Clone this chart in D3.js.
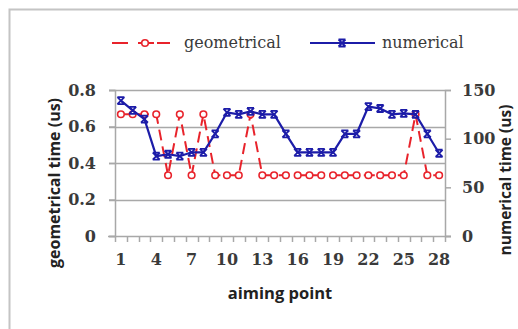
<!DOCTYPE html>
<html lang="en">
<head>
<meta charset="UTF-8">
<title>aiming point timing</title>
<style>
  body { margin: 0; background: #fff; }
  svg { display: block; }
</style>
</head>
<body>
<script src="https://d3js.org/d3.v7.min.js"></script>
<script>
    // aiming points 1..28
    var points = d3.range(1, 29);
    var tickLabels = [1, 4, 7, 10, 13, 16, 19, 22, 25, 28];

    // geometrical time (us), left axis
    var geometrical = [0.667, 0.667, 0.667, 0.667, 0.333, 0.667, 0.333, 0.667, 0.333, 0.333,
                       0.333, 0.667, 0.333, 0.333, 0.333, 0.333, 0.333, 0.333, 0.333, 0.333,
                       0.333, 0.333, 0.333, 0.333, 0.333, 0.667, 0.333, 0.333];

    // numerical time (us), right axis
    var numerical = [139, 129, 120, 82, 84, 82, 86, 86, 105, 127,
                     125, 128, 125, 125, 105, 86, 86, 86, 86, 105,
                     105, 133, 131, 125, 126, 125, 105, 85];

    var leftTicks = [0, 0.2, 0.4, 0.6, 0.8];
    var rightTicks = [0, 50, 100, 150];

    var W = 518, H = 329;
    var plot = {left: 115, right: 445, top: 90, bottom: 236};

    var svg = d3.select('body').append('svg')
        .attr('width', W)
        .attr('height', H);

    // outer chart frame (runs off the right/bottom edges)
    svg.append('rect')
        .attr('x', 9.5).attr('y', 9.5)
        .attr('width', 540).attr('height', 340)
        .attr('fill', '#fff')
        .attr('stroke', '#c4c4c4')
        .attr('stroke-width', 2);

    var x = d3.scaleBand()
        .domain(points)
        .range([plot.left, plot.right]);
    var yL = d3.scaleLinear().domain([0, 0.8]).range([plot.bottom, plot.top]);
    var yR = d3.scaleLinear().domain([0, 150]).range([plot.bottom, plot.top]);

    var gray = '#a8a8a8';
    var tickFont = 'DejaVu Serif';

    // gridlines
    svg.append('g').selectAll('line')
        .data(leftTicks.filter(function(d) { return d > 0; }))
      .enter().append('line')
        .attr('x1', plot.left - 6).attr('x2', plot.right)
        .attr('y1', function(d) { return Math.round(yL(d)) + 0.5; })
        .attr('y2', function(d) { return Math.round(yL(d)) + 0.5; })
        .attr('stroke', gray).attr('stroke-width', 1.5);

    // left axis
    var leftAxis = svg.append('g')
        .attr('transform', 'translate(' + plot.left + ',0)')
        .call(d3.axisLeft(yL).tickValues(leftTicks).tickSize(6).tickPadding(13)
            .tickFormat(function(d) { return d === 0 ? '0' : d3.format('.1f')(d); }));

    // right axis
    var rightAxis = svg.append('g')
        .attr('transform', 'translate(' + plot.right + ',0)')
        .call(d3.axisRight(yR).tickValues(rightTicks).tickSize(6).tickPadding(11));

    // bottom axis: ticks at category boundaries, labels every third point
    var bottomAxis = svg.append('g')
        .attr('transform', 'translate(0,' + plot.bottom + ')')
        .call(d3.axisBottom(x).tickValues(tickLabels).tickSize(0).tickPadding(18));

    svg.append('g').selectAll('line')
        .data(d3.range(points.length + 1))
      .enter().append('line')
        .attr('x1', function(i) { return Math.round(plot.left + i * x.step()) + 0.5; })
        .attr('x2', function(i) { return Math.round(plot.left + i * x.step()) + 0.5; })
        .attr('y1', plot.bottom).attr('y2', plot.bottom + 6)
        .attr('stroke', gray).attr('stroke-width', 1.5);

    svg.append('line')
        .attr('x1', plot.left - 7).attr('x2', plot.right + 6)
        .attr('y1', plot.bottom + 0.5).attr('y2', plot.bottom + 0.5)
        .attr('stroke', gray).attr('stroke-width', 1.5);

    [leftAxis, rightAxis, bottomAxis].forEach(function(a) {
        a.select('.domain').attr('stroke', gray).attr('stroke-width', 1.5);
        a.selectAll('.tick line').attr('stroke', gray).attr('stroke-width', 1.5);
        a.selectAll('.tick text')
            .attr('font-family', tickFont)
            .attr('font-size', 16)
            .attr('font-weight', 'bold')
            .attr('fill', '#3a3a3a');
    });
    bottomAxis.select('.domain').remove();

    var cx = function(d, i) { return x(points[i]) + x.bandwidth() / 2; };

    // geometrical series (red, dashed, circle markers)
    var red = '#e8232b';
    svg.append('path')
        .datum(geometrical)
        .attr('fill', 'none')
        .attr('stroke', red)
        .attr('stroke-width', 2)
        .attr('stroke-dasharray', '11,6')
        .attr('d', d3.line().x(cx).y(function(d) { return yL(d); }));

    svg.append('g').selectAll('circle')
        .data(geometrical)
      .enter().append('circle')
        .attr('cx', cx)
        .attr('cy', function(d) { return yL(d); })
        .attr('r', 3.3)
        .attr('fill', '#fff')
        .attr('stroke', red)
        .attr('stroke-width', 1.6);

    // numerical series (blue, solid, x markers)
    var blue = '#1c1ca8';
    var xMark = 'M-3.5,-3.5L3.5,-3.5M-3.5,3.5L3.5,3.5M-3.5,-3.5L3.5,3.5M3.5,-3.5L-3.5,3.5';
    svg.append('path')
        .datum(numerical)
        .attr('fill', 'none')
        .attr('stroke', blue)
        .attr('stroke-width', 2.2)
        .attr('d', d3.line().x(cx).y(function(d) { return yR(d); }));

    svg.append('g').selectAll('path')
        .data(numerical)
      .enter().append('path')
        .attr('transform', function(d, i) { return 'translate(' + cx(d, i) + ',' + yR(d) + ')'; })
        .attr('d', xMark)
        .attr('fill', 'none')
        .attr('stroke', blue)
        .attr('stroke-width', 1.8);

    // axis titles
    var titleFont = 'Open Sans';
    svg.append('text')
        .attr('transform', 'translate(60,183) rotate(-90)')
        .attr('text-anchor', 'middle')
        .attr('font-family', titleFont).attr('font-weight', 'bold').attr('font-size', 16)
        .attr('fill', '#222')
        .text('geometrical time (us)');

    svg.append('text')
        .attr('transform', 'translate(511,180) rotate(-90)')
        .attr('text-anchor', 'middle')
        .attr('font-family', titleFont).attr('font-weight', 'bold').attr('font-size', 15.5)
        .attr('fill', '#222')
        .text('numerical time (us)');

    svg.append('text')
        .attr('x', 280).attr('y', 299)
        .attr('text-anchor', 'middle')
        .attr('font-family', titleFont).attr('font-weight', 'bold').attr('font-size', 16.5)
        .attr('fill', '#222')
        .text('aiming point');

    // legend
    var legend = svg.append('g').attr('transform', 'translate(0,43)');
    legend.append('line')
        .attr('x1', 112).attr('x2', 170)
        .attr('stroke', red).attr('stroke-width', 2)
        .attr('stroke-dasharray', '16,10,16,3,13');
    legend.append('circle')
        .attr('cx', 145).attr('r', 3.3)
        .attr('fill', '#fff').attr('stroke', red).attr('stroke-width', 1.6);
    legend.append('text')
        .attr('x', 184).attr('y', 5)
        .attr('font-family', tickFont).attr('font-size', 16)
        .attr('fill', '#3a3a3a')
        .text('geometrical');

    legend.append('line')
        .attr('x1', 310).attr('x2', 375)
        .attr('stroke', blue).attr('stroke-width', 2.2);
    legend.append('path')
        .attr('transform', 'translate(342,0)')
        .attr('d', xMark)
        .attr('fill', 'none').attr('stroke', blue).attr('stroke-width', 1.8);
    legend.append('text')
        .attr('x', 382).attr('y', 5)
        .attr('font-family', tickFont).attr('font-size', 16)
        .attr('fill', '#3a3a3a')
        .text('numerical');
</script>
</body>
</html>
